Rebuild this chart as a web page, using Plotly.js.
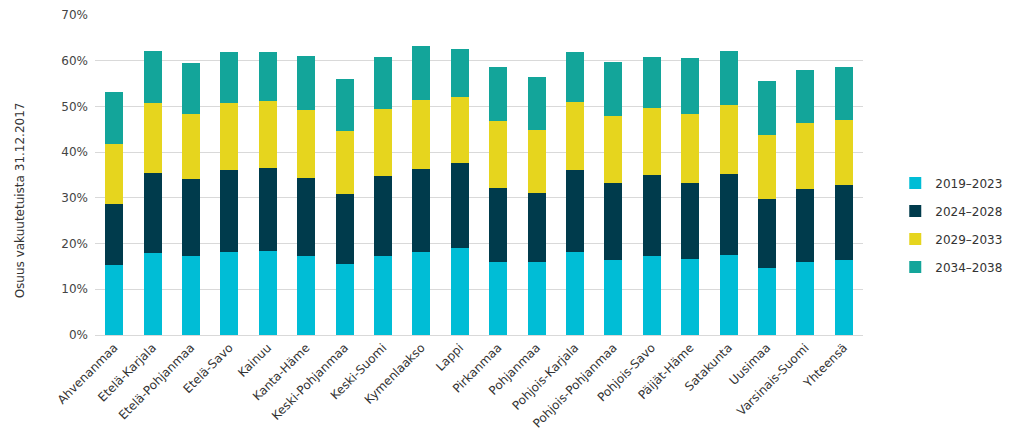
<!DOCTYPE html>
<html>
<head>
<meta charset="utf-8">
<script src="https://cdn.plot.ly/plotly-3.0.1.min.js"></script>
<style>html,body{margin:0;padding:0;background:#fff}#chart{width:1023px;height:445px}</style>
</head>
<body>
<div id="chart"></div>
<script>
const categories = ["Ahvenanmaa","Etelä-Karjala","Etelä-Pohjanmaa","Etelä-Savo","Kainuu","Kanta-Häme","Keski-Pohjanmaa","Keski-Suomi","Kymenlaakso","Lappi","Pirkanmaa","Pohjanmaa","Pohjois-Karjala","Pohjois-Pohjanmaa","Pohjois-Savo","Päijät-Häme","Satakunta","Uusimaa","Varsinais-Suomi","Yhteensä"];
const seriesNames = ["2019–2023","2024–2028","2029–2033","2034–2038"];
const s2019_2023 = [15.3,17.9,17.3,18.2,18.4,17.3,15.5,17.3,18.2,19.1,16.0,15.9,18.2,16.4,17.3,16.7,17.6,14.7,15.9,16.4];
const s2024_2028 = [13.4,17.6,16.8,17.8,18.1,17.0,15.4,17.5,18.1,18.5,16.2,15.2,18.0,16.9,17.6,16.6,17.6,15.1,16.0,16.4];
const s2029_2033 = [13.1,15.2,14.2,14.7,14.7,14.9,13.7,14.6,15.2,14.5,14.7,13.7,14.8,14.7,14.8,15.1,15.1,14.0,14.4,14.3];
const s2034_2038 = [11.4,11.5,11.1,11.1,10.7,11.9,11.3,11.5,11.8,10.4,11.8,11.7,10.8,11.7,11.2,12.1,11.9,11.8,11.7,11.6];
const yTickVals = [0,10,20,30,40,50,60,70];
const yTickText = ["0%","10%","20%","30%","40%","50%","60%","70%"];
const yTitle = "Osuus vakuutetuista 31.12.2017";
const colors = ["#00BDD6","#003B4C","#E6D51E","#13A59A"];

const allSeries = [s2019_2023, s2024_2028, s2029_2033, s2034_2038];
const traces = allSeries.map((vals, i) => ({
  type: "bar",
  name: seriesNames[i],
  x: categories,
  y: vals,
  marker: {color: colors[i]},
  legendgroup: "g" + i,
  hoverinfo: "x+y+name"
}));

const layout = {
  width: 1023, height: 445,
  margin: {l: 95, r: 160, t: 15, b: 110},
  barmode: "stack",
  bargap: 0.53,
  paper_bgcolor: "#fff",
  plot_bgcolor: "#fff",
  font: {family: "DejaVu Sans, Verdana, sans-serif", size: 12, color: "#333"},
  xaxis: {
    tickangle: -45,
    tickfont: {size: 12, color: "#333"},
    showgrid: false,
    showline: true,
    linecolor: "#d9d9d9",
    linewidth: 1,
    ticks: ""
  },
  yaxis: {
    range: [0, 70],
    tickvals: yTickVals,
    ticktext: yTickText,
    tickfont: {size: 12, color: "#444"},
    showgrid: true,
    gridcolor: "#d9d9d9",
    gridwidth: 1,
    zeroline: false,
    showline: false,
    ticks: "",
    ticklabelstandoff: 6
  },
  annotations: [{
    text: yTitle,
    xref: "paper", yref: "paper",
    x: -0.098, y: 0.42,
    xanchor: "center", yanchor: "middle",
    textangle: -90,
    showarrow: false,
    font: {size: 12, color: "#333"}
  }],
  legend: {
    x: 1.042, xanchor: "left",
    y: 0.52, yanchor: "top",
    traceorder: "grouped",
    tracegroupgap: 9,
    font: {size: 12, color: "#333"},
    itemwidth: 30
  },
  showlegend: true
};

Plotly.newPlot("chart", traces, layout, {displayModeBar: false, staticPlot: true});
</script>
</body>
</html>
